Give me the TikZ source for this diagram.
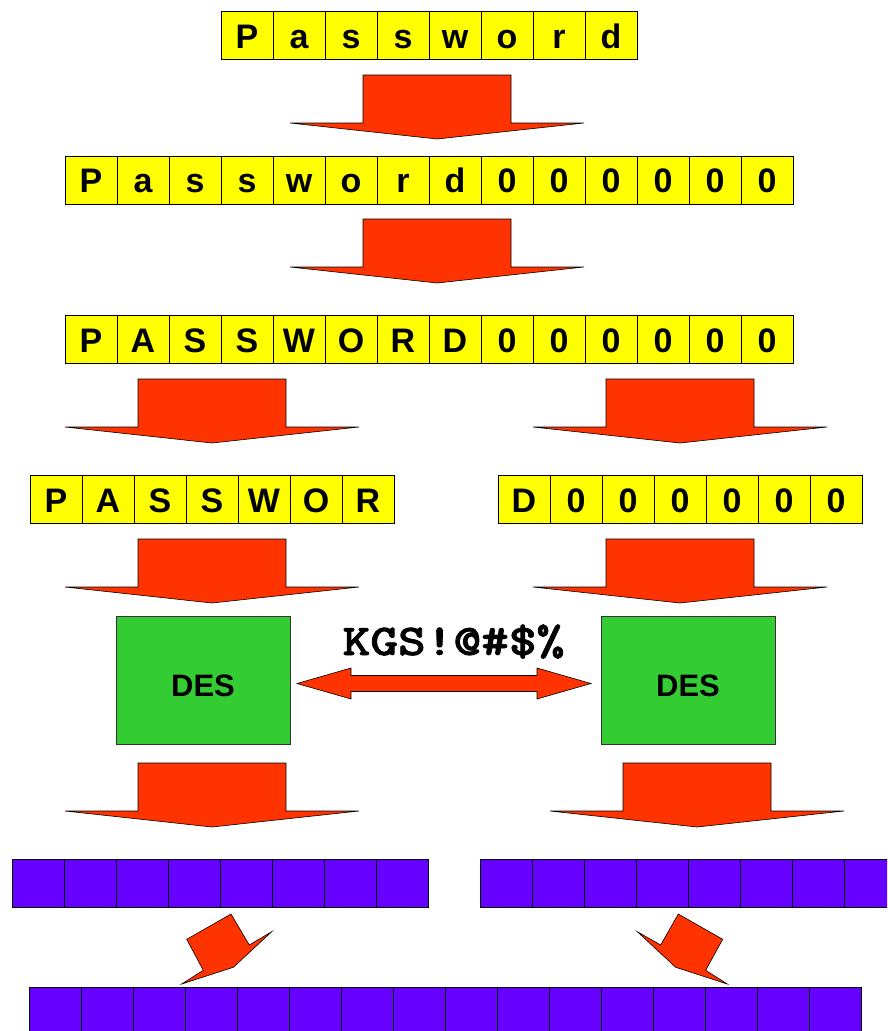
\documentclass[tikz,border=0pt]{standalone}
\usepackage{fontspec}
\setmainfont{Liberation Sans}
\newfontfamily\kgsfont[FakeBold=1.5]{lmmonolt10-bold.otf}
\definecolor{cellyellow}{HTML}{FFFF00}
\definecolor{arrowred}{HTML}{FF3300}
\definecolor{desgreen}{HTML}{33CC33}
\definecolor{cellpurple}{HTML}{6600FF}
\tikzset{
  ycell/.style={draw=black, line width=0.8pt, fill=cellyellow, minimum width=52pt, minimum height=48pt,
    inner sep=0pt, text height=25pt, text depth=0pt, font=\fontsize{34}{40}\selectfont\bfseries},
  pcell/.style={draw=black, line width=0.8pt, fill=cellpurple, minimum width=52pt, minimum height=48pt, inner sep=0pt},
  arrowfill/.style={draw=black, line width=0.6pt, fill=arrowred, line join=miter},
  desbox/.style={draw=black!80, line width=0.8pt, fill=desgreen, minimum width=174pt, minimum height=128pt, inner sep=0pt},
  destext/.style={font=\fontsize{31}{36}\selectfont\bfseries, inner sep=0pt, anchor=base},
  keytext/.style={font=\kgsfont\fontsize{44}{50}\selectfont, inner sep=0pt, anchor=base},
  downarrow/.pic={\draw[arrowfill] (-74,0) -- (74,0) -- (74,48) -- (147,48) -- (0,64) -- (-147,48) -- (-74,48) -- cycle;}
}
\begin{document}
\begin{tikzpicture}[x=1pt,y=-1pt]
\useasboundingbox (0,0) rectangle (887,1031);
\clip (0,0) rectangle (887,1031);

% row 1
\foreach \c [count=\i] in {P,a,s,s,w,o,r,d}
  \node[ycell] (ra-\i) at ({247+52*(\i-1)},35.5) {\c};
\pic at (437,75) {downarrow};

% row 2
\foreach \c [count=\i] in {P,a,s,s,w,o,r,d,0,0,0,0,0,0}
  \node[ycell] (rb-\i) at ({91+52*(\i-1)},180) {\c};
\pic at (437,219) {downarrow};

% row 3
\foreach \c [count=\i] in {P,A,S,S,W,O,R,D,0,0,0,0,0,0}
  \node[ycell] (rc-\i) at ({91+52*(\i-1)},339.5) {\c};
\pic at (212,379) {downarrow};
\pic at (680,379) {downarrow};

% row 4
\foreach \c [count=\i] in {P,A,S,S,W,O,R}
  \node[ycell] (rdl-\i) at ({56+52*(\i-1)},499.5) {\c};
\foreach \c [count=\i] in {D,0,0,0,0,0,0}
  \node[ycell] (rdr-\i) at ({524+52*(\i-1)},499.5) {\c};
\pic at (212,539) {downarrow};
\pic at (680,539) {downarrow};

% DES
\node[desbox] (desl) at (203,680) {};
\node[desbox] (desr) at (688,680) {};
\node[destext] (desltext) at ([yshift=-16pt]desl.center) {DES};
\node[destext] (desrtext) at ([yshift=-16pt]desr.center) {DES};
\node[keytext] (key) at (453.5,655) {\scalebox{1.2}[1]{KGS!@\#\$\%}};
\draw[arrowfill] (297,683.5) -- (351,668) -- (351,675.5) -- (537,675.5) -- (537,668) -- (591,683.5)
  -- (537,699) -- (537,691.5) -- (351,691.5) -- (351,699) -- cycle;

\pic at (212,763) {downarrow};
\pic at (697,763) {downarrow};

% purple rows
\foreach \i in {1,...,8}
  \node[pcell] (rel-\i) at ({38+52*(\i-1)},883) {};
\foreach \i in {1,...,8}
  \node[pcell] (rer-\i) at ({506+52*(\i-1)},883) {};
\foreach \i in {1,...,16}
  \node[pcell] (rf-\i) at ({55+52*(\i-1)},1011) {};

% diagonal arrows
\draw[arrowfill] (231,914) -- (249.3,945) -- (271.7,931.7) -- (233.3,967.3) -- (181.7,984)
  -- (203.3,970.3) -- (186.7,939.3) -- cycle;
\draw[arrowfill] (678.3,914) -- (660.7,945) -- (637.3,931.7) -- (675.7,967.3) -- (727.3,984)
  -- (705.7,970.3) -- (722.7,939.3) -- cycle;
\end{tikzpicture}
\end{document}
